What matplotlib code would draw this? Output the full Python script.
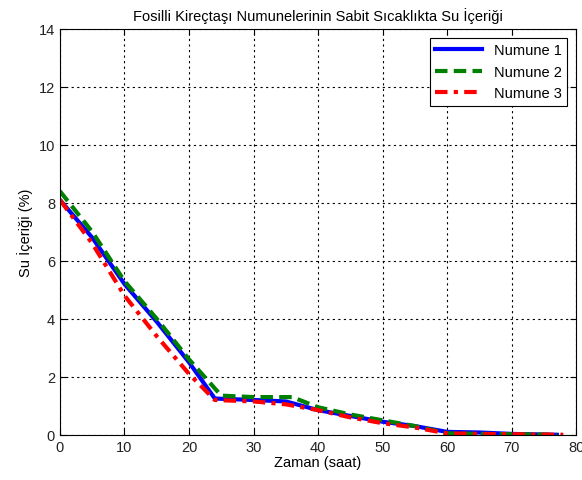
import matplotlib
matplotlib.use("Agg")
import matplotlib.pyplot as plt

plt.rcParams['font.family'] = ['Liberation Sans', 'DejaVu Sans']

# zaman (saat) ve su içeriği (%) değerleri
zaman_1 = [0, 5, 10, 15, 20, 24, 30, 35, 40, 45, 50, 55, 60, 65, 70, 77]
numune_1 = [8.1, 6.8, 5.2, 3.9, 2.5, 1.25, 1.2, 1.15, 0.85, 0.65, 0.45, 0.3, 0.1, 0.08, 0.03, 0.0]

zaman_2 = [0, 5, 10, 15, 20, 25, 30, 36, 40, 45, 50, 55, 60, 65, 70, 77]
numune_2 = [8.4, 7.0, 5.3, 4.0, 2.6, 1.35, 1.3, 1.3, 0.95, 0.7, 0.5, 0.3, 0.05, 0.03, 0.02, 0.0]

zaman_3 = [0, 5, 10, 15, 20, 24, 30, 35, 40, 45, 50, 55, 60, 65, 70, 78]
numune_3 = [8.1, 6.6, 4.8, 3.4, 2.1, 1.2, 1.15, 1.05, 0.85, 0.6, 0.4, 0.25, 0.05, 0.03, 0.02, 0.0]

fig = plt.figure(figsize=(5.82, 4.81), dpi=100)
ax = fig.add_axes([0.103, 0.094, 0.887, 0.844])

ax.plot(zaman_1, numune_1, color='blue', lw=3, linestyle='-', label='Numune 1')
ax.plot(zaman_2, numune_2, color='green', lw=3, linestyle=(0, (3, 1.5)), label='Numune 2')
ax.plot(zaman_3, numune_3, color='red', lw=3, linestyle=(0, (3, 1.5, 1, 1.5)), label='Numune 3')

ax.set_xlim(0, 80)
ax.set_ylim(0, 14)
ax.set_xticks(range(0, 81, 10))
ax.set_yticks(range(0, 15, 2))
ax.grid(True, color='black', linestyle=(0, (2, 3)), linewidth=0.8)
ax.tick_params(direction='in', labelsize=10.5, length=4, top=True, right=True,
               labelcolor='#222222')
for s in ax.spines.values():
    s.set_linewidth(0.8)

ax.set_title('Fosilli Kireçtaşı Numunelerinin Sabit Sıcaklıkta Su İçeriği', fontsize=10.5)
ax.set_xlabel('Zaman (saat)', fontsize=10.5, labelpad=1)
ax.set_ylabel('Su İçeriği (%)', fontsize=10.5)

leg = ax.legend(loc='upper right', fontsize=10.5, fancybox=False, edgecolor='black',
                framealpha=1, handlelength=3.2, borderaxespad=0.6)
leg.get_frame().set_linewidth(0.8)

fig.savefig('out.png', dpi=100)
